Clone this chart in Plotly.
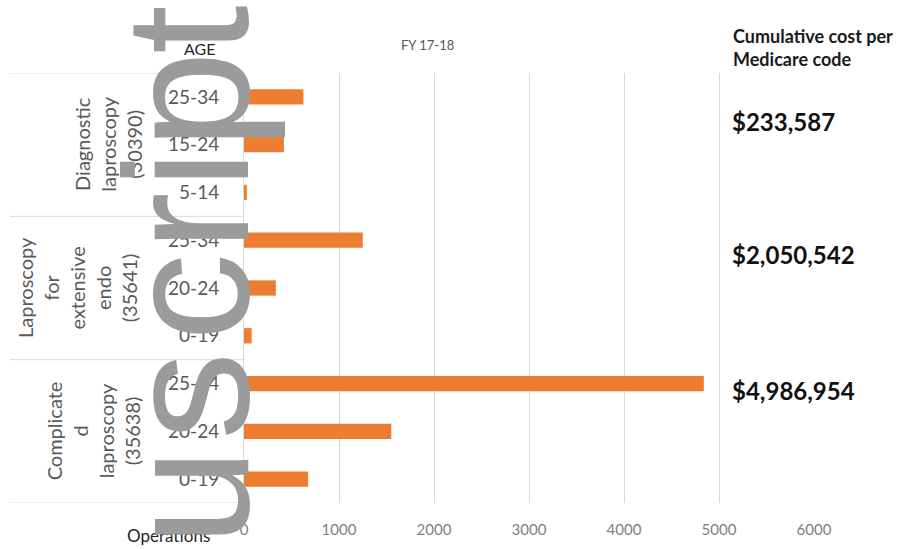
import plotly.graph_objects as go

# ---------------- data ----------------
group_labels = ["Diagnostic<br>laproscopy<br>(30390)",
                "Laproscopy<br>for<br>extensive<br>endo<br>(35641)",
                "Complicate<br>d<br>laproscopy<br>(35638)"]
age_groups = [["25-34", "15-24", "5-14"],
              ["25-34", "20-24", "0-19"],
              ["25-34", "20-24", "0-19"]]
operations = [[625, 420, 30],
              [1250, 335, 80],
              [4840, 1550, 675]]
cumulative_costs = ["$233,587", "$2,050,542", "$4,986,954"]
x_ticks = [0, 1000, 2000, 3000, 4000, 5000, 6000]
watermark_letters = ["u", "s", "c", "r", "i", "p", "t"]

# flatten (top to bottom)
ages = [a for g in age_groups for a in g]
vals = [v for g in operations for v in g]
ypos = list(range(len(ages)))

# ---------------- layout geometry ----------------
W, H = 903, 549
L, R, T, B = 244, 89, 73, 46
PW, PH = W - L - R, H - T - B


def px(xp):
    return (xp - L) / PW


def py(yp):
    return 1 - (yp - T) / PH


FONT = "Lato, 'Open Sans', sans-serif"

fig = go.Figure(go.Bar(
    x=vals, y=ypos, orientation="h",
    marker=dict(color="#ED7D31", line=dict(width=0)),
    width=0.32,
    hoverinfo="x",
))

fig.update_layout(
    width=W, height=H,
    margin=dict(l=L, r=R, t=T, b=B, pad=0),
    plot_bgcolor="white", paper_bgcolor="white",
    showlegend=False,
    font=dict(family=FONT, color="#595959"),
    xaxis=dict(range=[0, 6000], tickvals=x_ticks, showgrid=True,
               gridcolor="#D9D9D9", gridwidth=1, zeroline=False,
               showline=False, ticks="", ticklabelstandoff=16,
               tickfont=dict(size=15, color="#7F7F7F", family=FONT)),
    yaxis=dict(range=[len(ages) - 0.5, -0.5], tickvals=ypos, ticktext=ages,
               showgrid=False, zeroline=False, showline=True,
               linecolor="#D9D9D9", linewidth=1, ticks="",
               ticklabelstandoff=20,
               tickfont=dict(size=19, color="#595959", family=FONT)),
)

# group separator lines in the category-label area
for b in [-0.5, 2.5, 5.5, 8.5]:
    fig.add_shape(type="line", xref="paper", yref="y",
                  x0=px(10), x1=0, y0=b, y1=b,
                  line=dict(color="#D9D9D9", width=1))

# group (procedure) labels, rotated
group_x = [108, 77, 93]
for i, lab in enumerate(group_labels):
    fig.add_annotation(text=lab, xref="paper", yref="y",
                       x=px(group_x[i]), y=3 * i + 1, textangle=-90,
                       showarrow=False, xanchor="center", yanchor="middle",
                       align="center",
                       font=dict(size=20, color="#595959", family=FONT))

# cumulative cost annotations
fig.add_annotation(text="<b>Cumulative cost per<br>Medicare code</b>",
                   xref="paper", yref="paper", x=px(731), y=py(47),
                   xanchor="left", yanchor="middle", align="left",
                   showarrow=False,
                   font=dict(size=18, color="#1a1a1a", family=FONT))
cost_y = [121, 255, 390]
for c, yy in zip(cumulative_costs, cost_y):
    fig.add_annotation(text="<b>" + c + "</b>", xref="paper", yref="paper",
                       x=px(730), y=py(yy), xanchor="left", yanchor="middle",
                       showarrow=False,
                       font=dict(size=24, color="#111111", family=FONT))

# header / footer labels
fig.add_annotation(text="FY 17-18", xref="paper", yref="paper",
                   x=px(427), y=py(45), showarrow=False,
                   xanchor="center", yanchor="middle",
                   font=dict(size=13, color="#595959", family=FONT))
fig.add_annotation(text="AGE", xref="paper", yref="paper",
                   x=px(199), y=py(49), showarrow=False,
                   xanchor="center", yanchor="middle",
                   font=dict(size=16, color="#262626", family=FONT))
fig.add_annotation(text="Operations", xref="paper", yref="paper",
                   x=px(168), y=py(535), showarrow=False,
                   xanchor="center", yanchor="middle",
                   font=dict(size=17, color="#262626", family=FONT))

# "uscript" watermark overlay (letters placed individually, reading upward)
wm_y = [497, 396, 297, 222, 170, 100, 30]
for ch, yy in zip(watermark_letters, wm_y):
    fig.add_annotation(text=ch, xref="paper", yref="paper",
                       x=px(187), y=py(yy), textangle=-90, showarrow=False,
                       xanchor="center", yanchor="middle",
                       font=dict(size=176, color="#9B9B9B",
                                 family="'Liberation Sans', Arial, sans-serif"))

fig.write_html("out.html", config={"displayModeBar": False})

# remove the browser's default page margin so the figure sits at (0, 0)
with open("out.html", "r", encoding="utf-8") as f:
    html = f.read()
html = html.replace("<body>", '<body style="margin:0;padding:0;">', 1)
with open("out.html", "w", encoding="utf-8") as f:
    f.write(html)
